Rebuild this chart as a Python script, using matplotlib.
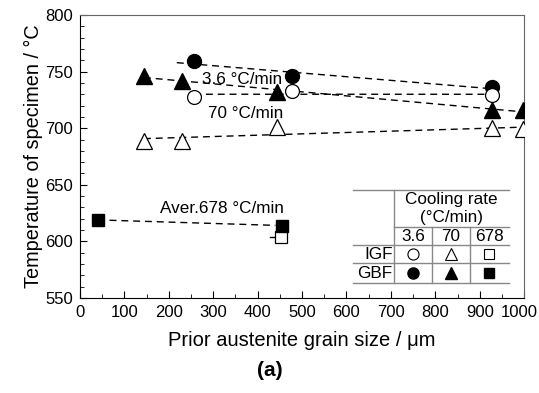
import numpy as np
import matplotlib.pyplot as plt
from matplotlib.ticker import MultipleLocator, FuncFormatter

plt.rcParams['font.family'] = ['Liberation Sans', 'DejaVu Sans']

# GBF = grain boundary ferrite (filled), IGF = intragranular ferrite (open)
gbf_c_x = [257, 477, 928]
gbf_c_y = [759, 746, 736]
igf_c_x = [257, 477, 928]
igf_c_y = [728, 733, 729]

gbf_t_x = [144, 230, 443, 928, 998]
gbf_t_y = [746, 742, 732, 716, 716]
igf_t_x = [144, 230, 443, 928, 998]
igf_t_y = [689, 689, 701, 700, 699]

gbf_s_x = [40, 455]
gbf_s_y = [619, 614]
igf_s_x = [453]
igf_s_y = [604]

rates = ['3.6', '70', '678']

fig = plt.figure(figsize=(5.39, 3.93), dpi=100)
ax = fig.add_axes([0.1484, 0.2417, 0.824, 0.7201])

dash = dict(color='black', lw=1.0, dashes=(5, 3.5), zorder=1)

def fit_line(xs, ys, x0, x1):
    p = np.polyfit(xs, ys, 1)
    xx = np.array([x0, x1])
    ax.plot(xx, np.polyval(p, xx), **dash)

fit_line(gbf_c_x, gbf_c_y, 218, 928)
fit_line(igf_c_x, igf_c_y, 257, 928)
fit_line(gbf_t_x, gbf_t_y, 144, 1000)
fit_line(igf_t_x, igf_t_y, 144, 998)
fit_line(gbf_s_x, gbf_s_y, 40, 440)
ax.plot([igf_s_x[0] - 26, igf_s_x[0] - 14], [igf_s_y[0]] * 2, color='black', lw=1.0)

ax.plot(gbf_c_x, gbf_c_y, 'o', ms=10, mfc='black', mec='black', ls='none', zorder=3)
ax.plot(igf_c_x, igf_c_y, 'o', ms=10, mfc='white', mec='black', mew=0.9, ls='none', zorder=3)
ax.plot(gbf_t_x, gbf_t_y, '^', ms=11, mfc='black', mec='black', ls='none', zorder=3)
ax.plot(igf_t_x, igf_t_y, '^', ms=11, mfc='white', mec='black', mew=0.9, ls='none', zorder=3)
ax.plot(gbf_s_x, gbf_s_y, 's', ms=9, mfc='black', mec='black', ls='none', zorder=4)
ax.plot(igf_s_x, igf_s_y, 's', ms=9, mfc='white', mec='black', mew=0.9, ls='none', zorder=3)

fs = 12.3
ax.text(365, 743, '3.6 \u00b0C/min', fontsize=fs, ha='center', va='center')
ax.text(372, 713, '70 \u00b0C/min', fontsize=fs, ha='center', va='center')
ax.text(320, 629, 'Aver.678 \u00b0C/min', fontsize=fs, ha='center', va='center')

# inset table drawn in data coordinates
tx = [615, 707, 793, 878, 966]
ty = [645, 612.4, 596.5, 580.5, 563]
gc = '#888888'
ax.plot([tx[0], tx[4]], [ty[0]] * 2, color=gc, lw=1)
ax.plot([tx[1], tx[4]], [ty[1]] * 2, color=gc, lw=1)
for yy in ty[2:]:
    ax.plot([tx[0], tx[4]], [yy] * 2, color=gc, lw=1)
ax.plot([tx[1]] * 2, [ty[0], ty[4]], color=gc, lw=1)
for xx in tx[2:4]:
    ax.plot([xx] * 2, [ty[1], ty[4]], color=gc, lw=1)

ax.text((tx[1] + tx[4]) / 2, 637, 'Cooling rate', fontsize=fs, ha='center', va='center')
ax.text((tx[1] + tx[4]) / 2, 621, '(\u00b0C/min)', fontsize=fs, ha='center', va='center')
for i, r in enumerate(rates):
    ax.text((tx[i + 1] + tx[i + 2]) / 2, (ty[1] + ty[2]) / 2, r, fontsize=fs,
            ha='center', va='center')
ax.text(tx[1] - 3, (ty[2] + ty[3]) / 2, 'IGF', fontsize=fs, ha='right', va='center')
ax.text(tx[1] - 3, (ty[3] + ty[4]) / 2, 'GBF', fontsize=fs, ha='right', va='center')

cx = [(tx[i + 1] + tx[i + 2]) / 2 for i in range(3)]
ry_igf = (ty[2] + ty[3]) / 2
ry_gbf = (ty[3] + ty[4]) / 2
for m, xx, s in zip(['o', '^', 's'], cx, [8, 9, 7]):
    ax.plot(xx, ry_igf, m, ms=s, mfc='white', mec='black', mew=0.8)
    ax.plot(xx, ry_gbf, m, ms=s, mfc='black', mec='black')

xmax = 1000
ax.set_xlim(0, xmax)
ax.set_ylim(550, 800)
ax.xaxis.set_major_locator(MultipleLocator(100))
ax.xaxis.set_minor_locator(MultipleLocator(50))
ax.yaxis.set_major_locator(MultipleLocator(50))
ax.yaxis.set_minor_locator(MultipleLocator(10))
# last x label is placed by hand so it stays inside the figure
ax.xaxis.set_major_formatter(FuncFormatter(lambda v, p: '' if v >= xmax else f'{v:.0f}'))
ax.annotate(f'{xmax}', xy=(xmax, 0), xycoords=('data', 'axes fraction'),
            xytext=(10, -5), textcoords='offset points', ha='right', va='top', fontsize=12)
ax.tick_params(which='both', direction='in', top=False, right=False, labelsize=12)
ax.tick_params(which='major', length=5, pad=5)
ax.tick_params(which='minor', length=3)
for s in ['top', 'right']:
    ax.spines[s].set_color('#666666')

ax.set_xlabel('Prior austenite grain size / \u03bcm', fontsize=14.5, labelpad=8)
ax.set_ylabel('Temperature of specimen / \u00b0C', fontsize=14.3, labelpad=1.5)
fig.text(0.5, 1 - 370 / 393, '(a)', fontsize=15, fontweight='bold', ha='center', va='center')

fig.savefig('out.png', dpi=100)
